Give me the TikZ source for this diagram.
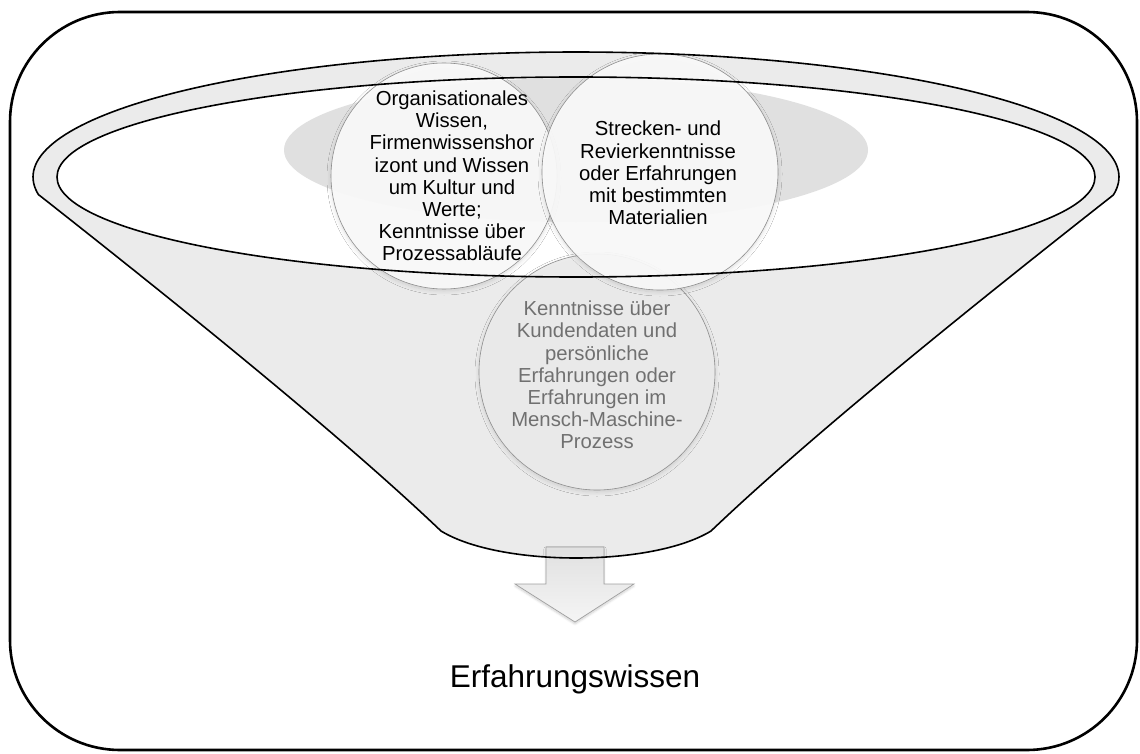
\documentclass[tikz,border=0pt]{standalone}
\usepackage{fontspec}
\setmainfont{Liberation Sans}
\usetikzlibrary{shadows.blur}
\definecolor{funnelgray}{HTML}{EBEBEB}
\definecolor{glowgray}{HTML}{E0E0E0}
\definecolor{ringgray}{HTML}{8E8E8E}
\definecolor{softtext}{HTML}{707070}
\definecolor{arrowline}{HTML}{A0A0A0}
\begin{document}
\begin{tikzpicture}[x=1pt,y=-1pt,
  frame/.style={draw=black, line width=2.6pt, rounded corners=110pt},
  funnelline/.style={draw=black, line width=1.6pt, line join=round},
  bubble/.style={circle, draw=ringgray, line width=0.6pt, inner sep=0pt,
    blur shadow={shadow xshift=0pt, shadow yshift=-2pt, shadow blur steps=8, shadow blur radius=4pt, shadow opacity=14}},
  lightbubble/.style={bubble, fill=white!98!black, fill opacity=0.93},
  graybubble/.style={bubble, fill=funnelgray, fill opacity=0.95},
  bubbletext/.style={align=center, font=\fontsize{20.3}{22.2}\selectfont, inner sep=0pt},
  blockarrow/.style={draw=arrowline, line width=0.7pt, top color=black!12, bottom color=black!4,
    blur shadow={shadow xshift=0pt, shadow yshift=-2pt, shadow blur steps=5, shadow opacity=18}},
]
\useasboundingbox (0,0) rectangle (1140,754);

% outer frame
\path[frame] (10,12) rectangle (1137,750);

% funnel body: rim top arc, curved sides and rounded spout
\def\funnelpath{plot[domain=171.7:368.3, samples=140, variable=\t]
    ({576+543*cos(\t)},{177+125*sin(\t)})
  .. controls (930,339) and (796,450) .. (711,531)
  .. controls (652,567) and (500,567) .. (441,531)
  .. controls (356,450) and (222,339) .. (39,195) -- cycle}
\fill[funnelgray] \funnelpath;

% opening of the funnel
\fill[white] (576,177) ellipse [x radius=519, y radius=100];
\fill[glowgray] (576,150) ellipse [x radius=292, y radius=72];

% outflow arrow
\path[blockarrow] (546,547) -- (604,547) -- (604,584) -- (634,584)
  -- (575,622) -- (515,584) -- (546,584) -- cycle;

% knowledge bubbles
\node[graybubble, minimum size=236pt] (kunde) at (597,372) {};
\node[lightbubble, minimum size=226pt] (org) at (444,176) {};
\node[lightbubble, minimum size=236pt] (strecke) at (660,172) {};

% outlines on top
\path[funnelline] \funnelpath;
\draw[funnelline] (576,177) ellipse [x radius=519, y radius=100];

% texts
\node[bubbletext] (orgtext) at (452,176) {Organisationales\\Wissen,\\Firmenwissenshor\\izont und Wissen\\um Kultur und\\Werte;\\Kenntnisse über\\Prozessabläufe};
\node[bubbletext] (strecketext) at (658,173) {Strecken- und\\Revierkenntnisse\\oder Erfahrungen\\mit bestimmten\\Materialien};
\node[bubbletext, text=softtext] (kundetext) at (597,375) {Kenntnisse über\\Kundendaten und\\persönliche\\Erfahrungen oder\\Erfahrungen im\\Mensch-Maschine-\\Prozess};

\node[font=\fontsize{31.5}{36}\selectfont, anchor=base, inner sep=0pt] (result) at (575,687) {Erfahrungswissen};
\end{tikzpicture}
\end{document}
